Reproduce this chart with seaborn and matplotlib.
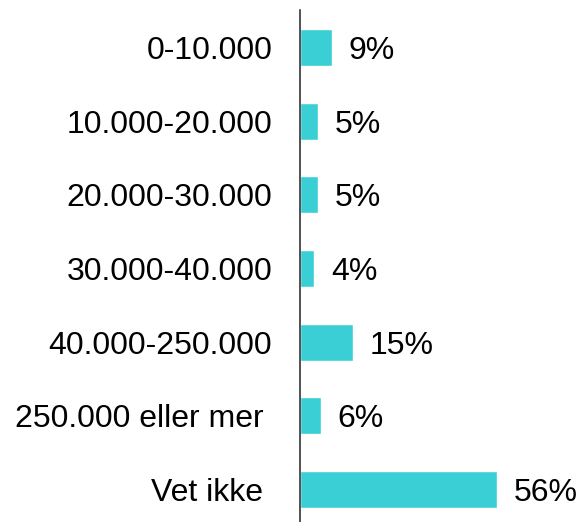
import numpy as np
import pandas as pd
import matplotlib
matplotlib.use("Agg")
import matplotlib.pyplot as plt
import seaborn as sns

# INPUT
categories = ["0-10.000", "10.000-20.000", "20.000-30.000", "30.000-40.000",
              "40.000-250.000", "250.000 eller mer ", "Vet ikke "]
values = [9, 5, 5, 4, 15, 6, 56]
value_labels = [f"{v}%" for v in values]

df = pd.DataFrame({"Kategori": categories, "Andel": values})

sns.set_style("white")
plt.rcParams["font.family"] = ["Liberation Sans", "DejaVu Sans"]
plt.rcParams["text.color"] = "black"
plt.rcParams["ytick.color"] = "black"

fig = plt.figure(figsize=(5.8, 5.22), dpi=100)
ax = fig.add_axes([300 / 580, 0, 280 / 580, 512 / 522])

sns.barplot(data=df, x="Andel", y="Kategori", orient="h", color="#3ACFD5",
            width=0.5, saturation=1, ax=ax)

anns = ax.bar_label(ax.containers[0], labels=value_labels, padding=12,
                    fontsize=23, color="black")
# labels sit a touch below the bar centre in the original
for a in anns:
    a.xyann = (12, -2.5)

ax.set_xlim(0, 79.4)
ax.set_ylim(6.44, -0.51)
ax.set_xlabel("")
ax.set_ylabel("")
ax.set_xticks([])
ax.tick_params(axis="y", length=0, pad=20, labelsize=23, labelcolor="black")
for s in ["top", "right", "bottom"]:
    ax.spines[s].set_visible(False)
ax.spines["left"].set_color("#222222")
ax.spines["left"].set_linewidth(1.1)

fig.savefig("out.png", dpi=100)
